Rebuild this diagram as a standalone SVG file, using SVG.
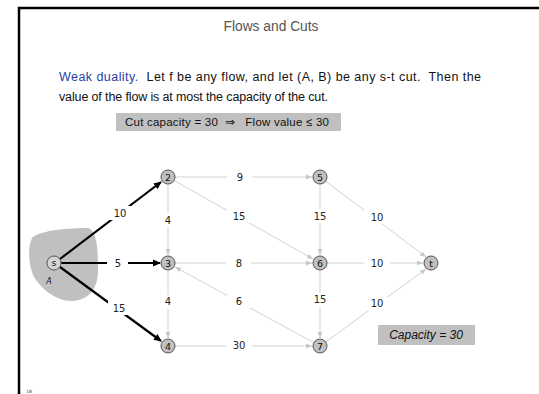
<svg xmlns="http://www.w3.org/2000/svg" width="539" height="394" viewBox="0 0 539 394">
<defs>
<marker id="ab" markerWidth="8" markerHeight="8" refX="7" refY="4" orient="auto" markerUnits="userSpaceOnUse"><path d="M0,0.5 L8,4 L0,7.5 z" fill="#000"/></marker>
<marker id="ag" markerWidth="6" markerHeight="6" refX="6" refY="3" orient="auto" markerUnits="userSpaceOnUse"><path d="M0,0.5 L6,3 L0,5.5 z" fill="#c8c8c8"/></marker>
</defs>
<style>
.node circle{fill:#c0c0c0;stroke:#555;stroke-width:1}
.node text{font-family:"DejaVu Sans",sans-serif;font-size:9.5px;fill:#111;text-anchor:middle}
.g{stroke:#d2d2d2;stroke-width:1;fill:none;marker-end:url(#ag)}
.b{stroke:#000;stroke-width:2.2;fill:none;marker-end:url(#ab)}
.lbl{font-family:"DejaVu Sans",sans-serif;font-size:10px;fill:#222;text-anchor:middle}
.gap{fill:#fff}
.main{font-family:"Liberation Sans",Arial,sans-serif;font-size:12.5px;fill:#111;white-space:pre}
</style>
<rect width="539" height="394" fill="#fff"/>
<path d="M19,394 V8 H539" fill="none" stroke="#000" stroke-width="2.5"/>
<text x="271" y="31" font-family="Liberation Sans, Arial, sans-serif" font-size="14" fill="#555" text-anchor="middle" textLength="95" lengthAdjust="spacingAndGlyphs">Flows and Cuts</text>
<text class="main" x="59" y="81" textLength="422" lengthAdjust="spacing"><tspan fill="#1f3fa8">Weak duality.</tspan>  Let f be any flow, and let (A, B) be any s-t cut.  Then the</text>
<text class="main" x="59" y="101" textLength="269" lengthAdjust="spacing">value of the flow is at most the capacity of the cut.</text>
<rect x="116" y="113" width="225" height="18" fill="#c0c0c0"/>
<text x="125" y="126" font-family="Liberation Sans, Arial, sans-serif" font-size="11.5" fill="#111" style="white-space:pre" textLength="204" lengthAdjust="spacing">Cut capacity = 30  ⇒   Flow value ≤ 30</text>
<path id="blobA" d="M32,238 C40,230 70,228 88,228 C97,230 98,250 98,270 C98,290 88,300 72,301 C55,301 40,288 33,275 C28,262 28,246 32,238 Z" fill="#c0c0c0"/>
<text x="49" y="284" font-family="DejaVu Sans, sans-serif" font-size="8" font-style="italic" fill="#111" text-anchor="middle">A</text>
<g id="connectors">
<line class="b" x1="60" y1="259" x2="161" y2="182"/>
<line class="b" x1="61" y1="263" x2="160" y2="263"/>
<line class="b" x1="60" y1="267" x2="161" y2="341"/>
<line class="g" x1="168" y1="177" x2="168" y2="255"/>
<line class="g" x1="168" y1="263" x2="168" y2="338"/>
<line class="g" x1="168" y1="177" x2="312" y2="177"/>
<line class="g" x1="168" y1="177" x2="313" y2="259"/>
<line class="g" x1="168" y1="263" x2="312" y2="263"/>
<line class="g" x1="320" y1="346" x2="175" y2="267"/>
<line class="g" x1="168" y1="346" x2="312" y2="346"/>
<line class="g" x1="320" y1="177" x2="320" y2="255"/>
<line class="g" x1="320" y1="263" x2="320" y2="338"/>
<line class="g" x1="320" y1="177" x2="426" y2="257"/>
<line class="g" x1="320" y1="263" x2="423" y2="263"/>
<line class="g" x1="320" y1="346" x2="426" y2="269"/>
<rect class="gap" x="109" y="206" width="22" height="14"/><text class="lbl" x="120" y="216.5">10</text>
<rect class="gap" x="107" y="256" width="21" height="14"/><text class="lbl" x="118" y="266.5">5</text>
<rect class="gap" x="108" y="301" width="22" height="14"/><text class="lbl" x="119" y="311.5">15</text>
<rect class="gap" x="162" y="213" width="12" height="14"/><text class="lbl" x="168" y="223.5">4</text>
<rect class="gap" x="162" y="295" width="12" height="14"/><text class="lbl" x="168" y="305">4</text>
<rect class="gap" x="227" y="171" width="25" height="12"/><text class="lbl" x="240" y="180.5">9</text>
<rect class="gap" x="227" y="209" width="25" height="14"/><text class="lbl" x="239" y="219.5">15</text>
<rect class="gap" x="226" y="257" width="25" height="12"/><text class="lbl" x="239" y="266.5">8</text>
<rect class="gap" x="227" y="294" width="25" height="14"/><text class="lbl" x="239" y="304.5">6</text>
<rect class="gap" x="226" y="339" width="26" height="12"/><text class="lbl" x="239" y="348.5">30</text>
<rect class="gap" x="311" y="209" width="18" height="14"/><text class="lbl" x="320" y="219.5">15</text>
<rect class="gap" x="311" y="293" width="18" height="14"/><text class="lbl" x="320" y="303">15</text>
<rect class="gap" x="364" y="210" width="26" height="14"/><text class="lbl" x="377" y="220.5">10</text>
<rect class="gap" x="364" y="257" width="26" height="12"/><text class="lbl" x="377" y="266.5">10</text>
<rect class="gap" x="364" y="297" width="26" height="14"/><text class="lbl" x="377" y="307">10</text>
</g>
<g id="node-s" class="node"><circle cx="54" cy="263" r="7" style="fill:#d4d4d4"/><text x="54" y="266">s</text></g>
<g id="node-2" class="node"><circle cx="168" cy="177" r="7"/><text x="168" y="180.5">2</text></g>
<g id="node-3" class="node"><circle cx="168" cy="263" r="7"/><text x="168" y="266.5">3</text></g>
<g id="node-4" class="node"><circle cx="168" cy="346" r="7"/><text x="168" y="349.5">4</text></g>
<g id="node-5" class="node"><circle cx="320" cy="177" r="7"/><text x="320" y="180.5">5</text></g>
<g id="node-6" class="node"><circle cx="320" cy="263" r="7"/><text x="320" y="266.5">6</text></g>
<g id="node-7" class="node"><circle cx="320" cy="346" r="7"/><text x="320" y="349.5">7</text></g>
<g id="node-t" class="node"><circle cx="431" cy="263" r="7"/><text x="431" y="266.5">t</text></g>
<rect x="378" y="325" width="97" height="20" fill="#c0c0c0"/>
<text x="426" y="339" font-family="Liberation Sans, Arial, sans-serif" font-size="12" font-style="italic" fill="#111" text-anchor="middle">Capacity = 30</text>
<text x="29" y="393" font-family="DejaVu Sans, sans-serif" font-size="4.5" fill="#333" text-anchor="middle">18</text>
</svg>
